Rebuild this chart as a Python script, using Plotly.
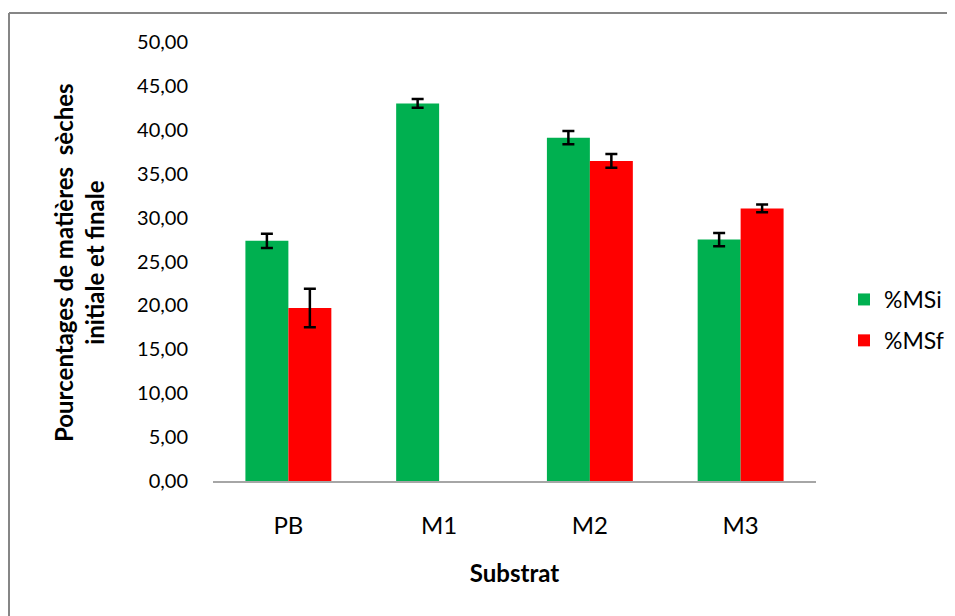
import plotly.graph_objects as go

categories = ["PB", "M1", "M2", "M3"]
msi_values = [27.35, 43.0, 39.1, 27.5]
msi_errors = [0.8, 0.5, 0.75, 0.75]
msf_values = [19.7, None, 36.45, 31.05]
msf_errors = [2.2, 0, 0.78, 0.45]
y_ticks = [0, 5, 10, 15, 20, 25, 30, 35, 40, 45, 50]
y_tick_labels = [f"{v:.2f}".replace(".", ",") for v in y_ticks]

# page body has an 8px margin; work in screenshot coordinates
OFF = 8
W, H = 955 - OFF, 616 - OFF
L, T = 213 - OFF, 42 - OFF
pw, ph = 603, 439
R, B = W - L - pw, H - T - ph

def px(x):
    return (x - OFF - L) / pw

def py(y):
    return (T + ph + OFF - y) / ph

def cx(x):
    return (x - OFF) / W

def cy(y):
    return 1 - (y - OFF) / H

font = "Lato, Open Sans, sans-serif"

fig = go.Figure()
fig.add_trace(go.Bar(
    name="%MSi", x=categories, y=msi_values, legendgroup="a",
    marker=dict(color="#00B050", line=dict(width=0)),
    error_y=dict(type="data", array=msi_errors, visible=True,
                 color="black", thickness=2.5, width=6),
))
fig.add_trace(go.Bar(
    name="%MSf", x=categories, y=msf_values, legendgroup="b",
    marker=dict(color="#FF0000", line=dict(width=0)),
    error_y=dict(type="data", array=msf_errors, visible=True,
                 color="black", thickness=2.5, width=6),
))

fig.update_layout(
    width=W, height=H,
    margin=dict(l=L, r=R, t=T, b=B, pad=0, autoexpand=False),
    paper_bgcolor="white", plot_bgcolor="white",
    barmode="group", bargap=0.43, bargroupgap=0,
    font=dict(family=font, size=20, color="black"),
    showlegend=True,
    legend=dict(xref="container", yref="container",
                x=cx(844), y=cy(320), xanchor="left", yanchor="middle",
                font=dict(size=23), tracegroupgap=8, itemsizing="constant",
                bgcolor="rgba(0,0,0,0)"),
    xaxis=dict(
        showline=True, linecolor="#A6A6A6", linewidth=1.5,
        ticks="", showgrid=False, ticklabelstandoff=22,
        tickfont=dict(size=24),
        title=dict(text="<b>Substrat</b>", font=dict(size=24), standoff=28),
    ),
    yaxis=dict(
        range=[0, 50], tickvals=y_ticks, ticktext=y_tick_labels,
        showline=False, showgrid=False, zeroline=False, ticks="",
        ticklabelstandoff=24, tickfont=dict(size=20),
    ),
    annotations=[dict(
        text="<b>Pourcentages de matières  sèches<br>initiale et finale</b>",
        xref="paper", yref="paper", x=px(79), y=py(263),
        xanchor="center", yanchor="middle", textangle=-90,
        showarrow=False, font=dict(size=24),
    )],
    shapes=[
        dict(type="line", xref="paper", yref="paper",
             x0=px(9), x1=px(970), y0=py(13), y1=py(13),
             line=dict(color="#868686", width=2)),
        dict(type="line", xref="paper", yref="paper",
             x0=px(9), x1=px(9), y0=py(13), y1=py(640),
             line=dict(color="#868686", width=2)),
    ],
)

fig.write_html("out.html")
